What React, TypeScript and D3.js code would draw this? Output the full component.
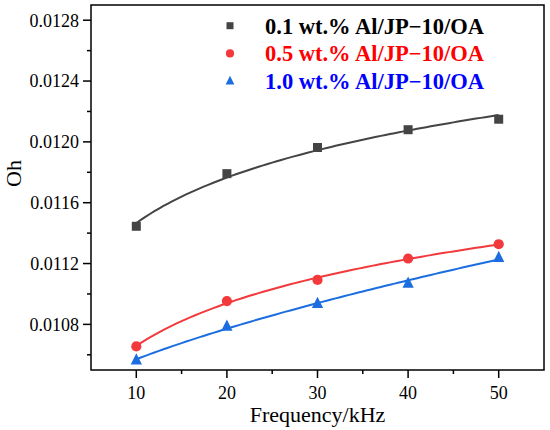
import * as d3 from 'd3'

const freq = [10, 20, 30, 40, 50]
const oh01 = [0.011445, 0.011791, 0.011963, 0.01208, 0.012149]
const oh05 = [0.010655, 0.010953, 0.011092, 0.011233, 0.011327]
const oh10 = [0.010565, 0.010787, 0.010938, 0.01107, 0.011239]
const labels = ['0.1 wt.% Al/JP\u221210/OA', '0.5 wt.% Al/JP\u221210/OA', '1.0 wt.% Al/JP\u221210/OA']
const xTicks = [10, 20, 30, 40, 50]
const yTicks = [0.0108, 0.0112, 0.0116, 0.012, 0.0124, 0.0128]

const W = 550
const H = 430
const margin = { left: 91, top: 5, right: 6, bottom: 60 }
const font = 'Liberation Serif'

const series = [
    { vals: oh01, marker: 'square', fill: '#444444', line: '#444444', text: '#000000' },
    { vals: oh05, marker: 'circle', fill: '#f2393c', line: '#f2393c', text: '#ff0000' },
    { vals: oh10, marker: 'triangle', fill: '#1c6ee0', line: '#1c6ee0', text: '#0000ff' },
]

// fit y = a + b * x^c : scan c, least squares for a and b
function fitCurve(xs: number[], ys: number[]) {
    let best = { a: 0, b: 0, c: 1, err: Infinity }
    for (const c of d3.range(0.05, 2.001, 0.01)) {
        const u = xs.map(v => Math.pow(v, c))
        const mu = d3.mean(u) as number
        const my = d3.mean(ys) as number
        const suy = d3.sum(u, (v, i) => (v - mu) * (ys[i] - my))
        const suu = d3.sum(u, v => (v - mu) * (v - mu))
        const b = suy / suu
        const a = my - b * mu
        const err = d3.sum(u, (v, i) => (a + b * v - ys[i]) ** 2)
        if (err < best.err) best = { a, b, c, err }
    }
    return (v: number) => best.a + best.b * Math.pow(v, best.c)
}

function Marker(props: { kind: string, x: number, y: number, size: number, fill: string }) {
    const { kind, x, y, size, fill } = props
    if (kind === 'square') {
        return <rect x={x - size / 2} y={y - size / 2} width={size} height={size} fill={fill} />
    }
    if (kind === 'circle') {
        return <circle cx={x} cy={y} r={size / 2 + 0.6} fill={fill} />
    }
    const s = size * 1.25
    const p = `${x},${y - s * 0.6} ${x - s / 2},${y + s * 0.4} ${x + s / 2},${y + s * 0.4}`
    return <polygon points={p} fill={fill} />
}

export default function App() {
    const x = d3.scaleLinear().domain([5, 55]).range([margin.left, W - margin.right])
    const y = d3.scaleLinear().domain([0.0105, 0.0129]).range([H - margin.bottom, margin.top])

    const xs = d3.range(freq[0], freq[freq.length - 1] + 0.01, 0.5)
    const line = d3.line<number>().x(d => x(d))

    const minorX = d3.range(15, 55, 10)
    const minorY = yTicks.map(t => t + 0.0002).filter(t => t < 0.0129).concat([0.0106])

    const x0 = margin.left
    const x1 = W - margin.right
    const y0 = H - margin.bottom
    const y1 = margin.top

    return (
        <svg width={W} height={H} fontFamily={font} style={{ position: 'absolute', left: 0, top: 0, background: '#fff' }}>
            {/* left axis ticks */}
            {yTicks.map(t => (
                <g key={'y' + t}>
                    <line x1={x0 - 8} x2={x0} y1={y(t)} y2={y(t)} stroke="#000" strokeWidth={1.5} />
                    <text x={x0 - 12} y={y(t)} dy="0.35em" textAnchor="end" fontSize={18}>
                        {t.toFixed(4)}
                    </text>
                </g>
            ))}
            {minorY.map(t => (
                <line key={'my' + t} x1={x0 - 4} x2={x0} y1={y(t)} y2={y(t)} stroke="#000" strokeWidth={1.5} />
            ))}
            {/* bottom axis ticks */}
            {xTicks.map(t => (
                <g key={'x' + t}>
                    <line x1={x(t)} x2={x(t)} y1={y0} y2={y0 + 8} stroke="#000" strokeWidth={1.5} />
                    <text x={x(t)} y={y0 + 23} dy="0.35em" textAnchor="middle" fontSize={18}>
                        {t}
                    </text>
                </g>
            ))}
            {minorX.map(t => (
                <line key={'mx' + t} x1={x(t)} x2={x(t)} y1={y0} y2={y0 + 4} stroke="#000" strokeWidth={1.5} />
            ))}
            <text x={(x0 + x1) / 2} y={414} dy="0.35em" textAnchor="middle" fontSize={22}>
                Frequency/kHz
            </text>
            <text transform={`translate(13,${(y0 + y1) / 2 - 14}) rotate(-90)`} dy="0.35em" textAnchor="middle"
                fontSize={22}>
                Oh
            </text>

            {/* series */}
            {series.map((s, si) => {
                const f = fitCurve(freq, s.vals)
                return (
                    <g key={'s' + si}>
                        <path d={line.y(d => y(f(d)))(xs) || ''} fill="none" stroke={s.line} strokeWidth={2} />
                        {s.vals.map((v, i) => (
                            <Marker key={i} kind={s.marker} x={x(freq[i])} y={y(v)} size={9} fill={s.fill} />
                        ))}
                    </g>
                )
            })}

            {/* legend */}
            {series.map((s, si) => (
                <g key={'l' + si} transform={`translate(0,${25.7 + si * 27.7})`}>
                    <Marker kind={s.marker} x={230} y={0} size={7} fill={s.fill} />
                    <text x={265} y={0} dy="0.35em" fontSize={22.5} fontWeight="bold" fill={s.text}>
                        {labels[si]}
                    </text>
                </g>
            ))}

            <rect x={x0} y={y1} width={x1 - x0} height={y0 - y1} fill="none" stroke="#000" strokeWidth={1.5} />
        </svg>
    )
}
